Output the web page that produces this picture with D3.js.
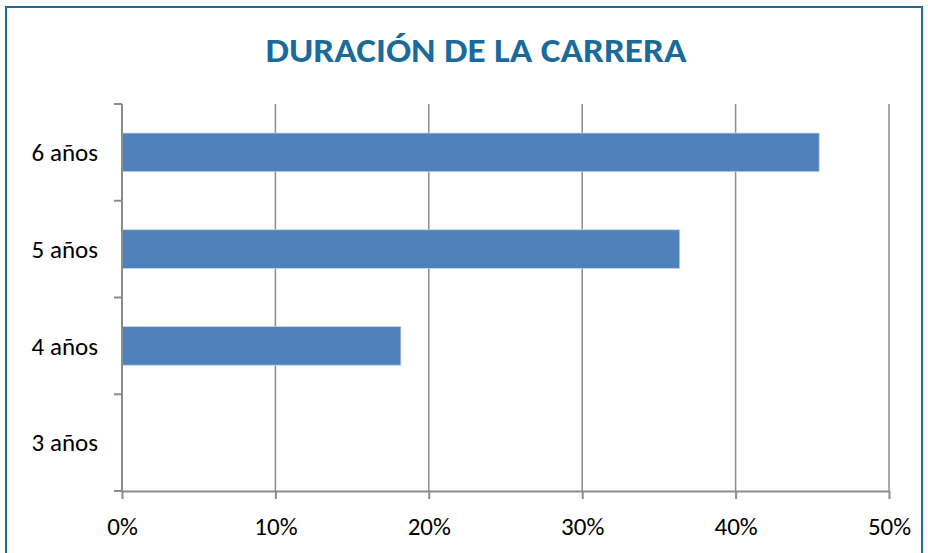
<!DOCTYPE html>
<html>
<head>
<meta charset="utf-8">
<script src="https://cdn.jsdelivr.net/npm/d3@7"></script>
<style>
  body { margin: 0; background: #fff; }
  svg { display: block; font-family: Carlito, Calibri, Lato, "Noto Sans", sans-serif; }
</style>
</head>
<body>
<div id="chart"></div>
<script>
// data
const categories = ["3 años", "4 años", "5 años", "6 años"];
const values = [0, 0.1818, 0.3636, 0.4545];
const xTicks = [0, 0.1, 0.2, 0.3, 0.4, 0.5];
const title = "DURACIÓN DE LA CARRERA";

const W = 928, H = 553;
const margin = { top: 104, right: 39, bottom: 62, left: 122 };
const w = W - margin.left - margin.right;
const h = H - margin.top - margin.bottom;

const svg = d3.select("#chart").append("svg")
  .attr("width", W)
  .attr("height", H);

// outer frame
svg.append("rect")
  .attr("x", 6).attr("y", 7)
  .attr("width", W - 12).attr("height", H)
  .attr("fill", "#fff")
  .attr("stroke", "#1F6A9A")
  .attr("stroke-width", 2);

// title
svg.append("text")
  .attr("x", 476).attr("y", 62)
  .attr("text-anchor", "middle")
  .attr("fill", "#1B6A9C")
  .attr("textLength", 421)
  .attr("lengthAdjust", "spacingAndGlyphs")
  .style("font-weight", "bold")
  .style("font-size", "34px")
  .text(title);

const g = svg.append("g").attr("transform", `translate(${margin.left}, ${margin.top})`);

const xScale = d3.scaleLinear().domain([0, 0.5]).range([0, w]);
const yScale = d3.scaleBand().domain(categories.slice().reverse()).range([0, h]).paddingInner(0.6).paddingOuter(0.3);
const yBand = d3.scaleBand().domain(categories.slice().reverse()).range([0, h]);

const grey = "#8C8C8C";
const labelSize = "25px";

// vertical gridlines
g.append("g")
  .selectAll("line")
  .data(xTicks.slice(1))
  .join("line")
  .attr("x1", (d) => xScale(d)).attr("x2", (d) => xScale(d))
  .attr("y1", 0).attr("y2", h)
  .attr("stroke", grey)
  .attr("stroke-width", 1.5);

// bars
g.append("g")
  .selectAll("rect")
  .data(categories.map((c, i) => ({ key: c, value: values[i] })).filter((d) => d.value > 0))
  .join("rect")
  .attr("x", 0)
  .attr("y", (d) => yScale(d.key))
  .attr("width", (d) => xScale(d.value))
  .attr("height", yScale.bandwidth())
  .attr("fill", "#4F81BD")
  .attr("stroke", "#C5D6EA")
  .attr("stroke-width", 0.8);

// x axis
const xAxis = g.append("g")
  .attr("transform", `translate(0, ${h})`)
  .call(d3.axisBottom(xScale).tickValues(xTicks).tickFormat(d3.format(".0%")).tickSize(8).tickSizeOuter(0));
xAxis.attr("font-family", null).attr("font-size", null);
xAxis.select(".domain").attr("stroke", grey).attr("stroke-width", 2);
xAxis.selectAll(".tick line").attr("stroke", grey).attr("stroke-width", 2);
xAxis.selectAll("text")
  .attr("y", 26)
  .attr("fill", "#000")
  .style("font-size", labelSize);

// y axis: line + ticks at band boundaries
const yAxis = g.append("g");
yAxis.append("line")
  .attr("x1", 0).attr("x2", 0).attr("y1", 0).attr("y2", h)
  .attr("stroke", grey).attr("stroke-width", 2);
yAxis.selectAll(".bound")
  .data(categories.concat(["end"]))
  .join("line")
  .attr("class", "bound")
  .attr("x1", -8).attr("x2", 0)
  .attr("y1", (d, i) => i * yBand.step())
  .attr("y2", (d, i) => i * yBand.step())
  .attr("stroke", grey).attr("stroke-width", 2);
yAxis.selectAll("text")
  .data(categories)
  .join("text")
  .attr("x", -24)
  .attr("y", (d) => yBand(d) + yBand.bandwidth() / 2)
  .attr("dy", "0.35em")
  .attr("text-anchor", "end")
  .attr("fill", "#000")
  .style("font-size", labelSize)
  .text((d) => d);
</script>
</body>
</html>
